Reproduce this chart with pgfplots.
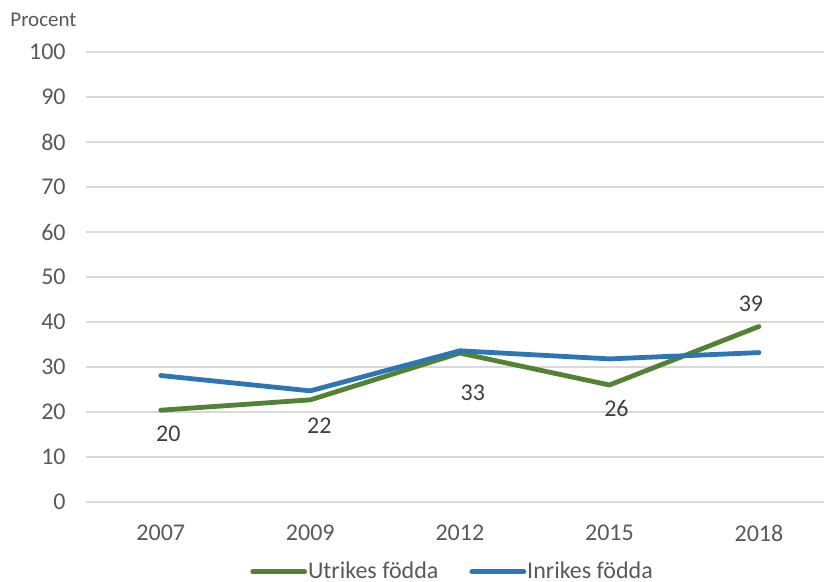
\documentclass[border=0pt]{standalone}
\usepackage{pgfplots}
\pgfplotsset{compat=1.18}
\usepackage{fontspec}
\setmainfont{Carlito}
\definecolor{cgreen}{HTML}{548235}
\definecolor{cblue}{HTML}{2E75B6}
\definecolor{ctext}{HTML}{595959}
\definecolor{clab}{HTML}{404040}
\definecolor{cgrid}{HTML}{D9D9D9}
\begin{document}
\begin{tikzpicture}
\path[use as bounding box] (-43pt,-40pt) rectangle (369pt,251pt);
\begin{axis}[
  at={(0,0)}, anchor=south west,
  scale only axis, width=369pt, height=225pt,
  xmin=-0.5, xmax=4.435, ymin=0, ymax=100,
  xtick={0,...,4}, xticklabels={2007,2009,2012,2015,2018},
  ytick={0,10,...,100},
  ymajorgrids, grid style={cgrid, line width=0.75pt},
  axis line style={draw=none},
  major tick length=0pt,
  tick style={draw=none},
  ticklabel style={font=\fontsize{12}{14}\selectfont, text=ctext},
  /pgf/number format/assume math mode=true,
  yticklabel style={anchor=east, inner sep=0pt, xshift=-10pt},
  xticklabel style={anchor=north, inner sep=0pt, yshift=-11.5pt},
  clip=false,
  legend style={at={(0.496,-0.155)}, anchor=center, draw=none, fill=none,
    font=\fontsize{12}{14}\selectfont, text=ctext, inner sep=0pt,
    /tikz/every even column/.append style={column sep=15pt},
    nodes={inner sep=0.5pt}},
  legend columns=2,
  legend image code/.code={\draw[line width=2.4pt, line cap=round] (0pt,0pt) -- (26pt,0pt);},
]
\addplot[cgreen, line width=2.4pt, line join=round, line cap=round,
  point meta=explicit symbolic,
  nodes near coords={\pgfplotspointmeta},
  visualization depends on={value \thisrow{dx}\as\dx},
  visualization depends on={value \thisrow{dy}\as\dy},
  nodes near coords style={anchor=center, xshift=\dx pt, yshift=\dy pt,
    font=\fontsize{12}{14}\selectfont, text=clab}]
  table[x=x, y=y, meta=lab] {
x y lab dx dy
0 20.4 20 3.75 -12
1 22.7 22 4.5 -12.75
2 33.1 33 6.5 -19.75
3 26.0 26 3.5 -11.75
4 39.0 39 -4 11.5
};
\addlegendentry{Utrikes födda}
\addplot[cblue, line width=2.4pt, line join=round, line cap=round]
  table[x=x, y=y] {
x y
0 28.1
1 24.7
2 33.6
3 31.8
4 33.2
};
\addlegendentry{Inrikes födda}
\end{axis}
\node[anchor=west, font=\fontsize{10.5}{12}\selectfont, text=ctext, inner sep=0pt] at (-38pt,241pt) {Procent};
\end{tikzpicture}
\end{document}
